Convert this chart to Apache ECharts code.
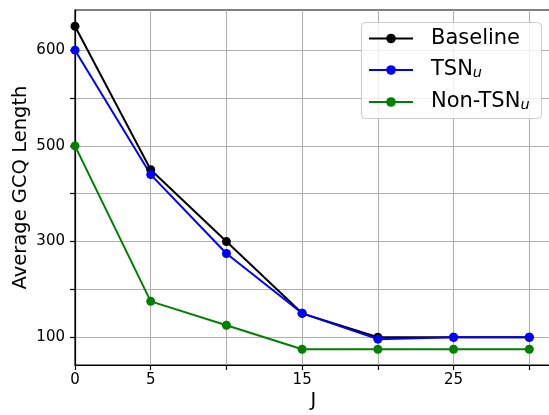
<!DOCTYPE html>
<html>
<head>
<meta charset="utf-8">
<script src="https://cdn.jsdelivr.net/npm/echarts@6/dist/echarts.min.js"></script>
<style>
  html, body { margin: 0; padding: 0; background: #fff; }
  #chart { width: 549px; height: 415px; }
</style>
</head>
<body>
<div id="chart"></div>
<script>
// J values on the x axis
const jValues = [0, 5, 10, 15, 20, 25, 30];

// Average GCQ length per configuration
const baseline = [750, 450, 300, 150, 100, 100, 100];
const tsnU = [700, 440, 275, 150, 96, 100, 100];
const nonTsnU = [500, 175, 125, 75, 75, 75, 75];

// Tick positions and the text printed at each of them
const xTickLabels = { 0: '0', 5: '5', 15: '15', 25: '25' };
const yTicks = [100, 200, 300, 400, 500, 600, 700];
const yTickLabels = ['100', '', '300', '', '500', '', '600'];

const FONT = 'DejaVu Sans';

function pairs(ys) {
  return jValues.map((x, i) => [x, ys[i]]);
}

function lineSeries(name, ys, color) {
  return {
    name: name,
    type: 'line',
    data: pairs(ys),
    symbol: 'circle',
    symbolSize: 9,
    itemStyle: { color: color },
    lineStyle: { color: color, width: 2 },
    emphasis: { disabled: true },
    animation: false
  };
}

const chart = echarts.init(document.getElementById('chart'), null, { renderer: 'canvas' });

chart.setOption({
  backgroundColor: '#fff',
  animation: false,
  grid: {
    left: 75, right: -3, top: 10, bottom: 50,
    show: true, borderColor: '#000', borderWidth: 1.2,
    containLabel: false,
    outerBoundsMode: 'none'
  },
  // semi-opaque frame behind the legend entries
  graphic: [{
    type: 'rect',
    z: 3,
    left: 361, top: 22,
    shape: { width: 180, height: 96, r: 4 },
    style: { fill: 'rgba(255,255,255,0.8)', stroke: '#cccccc', lineWidth: 1 }
  }],
  legend: {
    orient: 'vertical',
    left: 361, top: 22,
    z: 4,
    padding: [6, 2, 6, 7],
    itemWidth: 44, itemHeight: 12, itemGap: 10.5,
    formatter: function (name) {
      if (name === 'TSN_u') return '{a|TSN}{s|u}';
      if (name === 'Non-TSN_u') return '{a|Non-TSN}{s|u}';
      return '{a|' + name + '}';
    },
    textStyle: {
      padding: [0, 0, 0, 13],
      rich: {
        a: { fontFamily: FONT, fontSize: 21, lineHeight: 22, color: '#000' },
        s: { fontFamily: FONT, fontSize: 14.5, fontStyle: 'italic', lineHeight: 10, verticalAlign: 'bottom', color: '#000' }
      }
    },
    data: ['Baseline', 'TSN_u', 'Non-TSN_u']
  },
  xAxis: {
    type: 'value',
    min: 0, max: 31.5, interval: 5,
    name: 'J',
    nameLocation: 'middle',
    nameGap: 26,
    nameMoveOverlap: false,
    nameTextStyle: { fontFamily: FONT, fontSize: 19.5, color: '#000' },
    axisLine: { show: true, onZero: false, lineStyle: { color: '#000', width: 1.2 } },
    axisTick: { show: true, inside: false, length: 5, lineStyle: { color: '#000', width: 1.2 } },
    axisLabel: {
      fontFamily: FONT, fontSize: 15, color: '#000', margin: 8,
      showMaxLabel: false,
      formatter: function (v) { return xTickLabels[v] !== undefined ? xTickLabels[v] : ''; }
    },
    splitLine: { show: true, lineStyle: { color: '#b0b0b0', width: 1.1 } }
  },
  yAxis: {
    type: 'value',
    min: 42, max: 784,
    name: 'Average GCQ Length',
    nameLocation: 'middle',
    nameGap: 44,
    nameMoveOverlap: false,
    nameTextStyle: { fontFamily: FONT, fontSize: 19.5, color: '#000' },
    axisLine: { show: true, onZero: false, lineStyle: { color: '#000', width: 1.2 } },
    axisTick: { show: true, inside: false, length: 5, customValues: yTicks, lineStyle: { color: '#000', width: 1.2 } },
    axisLabel: {
      fontFamily: FONT, fontSize: 15, color: '#000', margin: 10,
      customValues: yTicks,
      formatter: function (v) {
        const i = yTicks.indexOf(v);
        return i >= 0 ? yTickLabels[i] : '';
      }
    },
    splitLine: { show: true, customValues: yTicks, lineStyle: { color: '#b0b0b0', width: 1.1 } }
  },
  series: [
    lineSeries('Baseline', baseline, '#000000'),
    lineSeries('TSN_u', tsnU, '#0000ff'),
    lineSeries('Non-TSN_u', nonTsnU, '#008000')
  ]
});
</script>
</body>
</html>
